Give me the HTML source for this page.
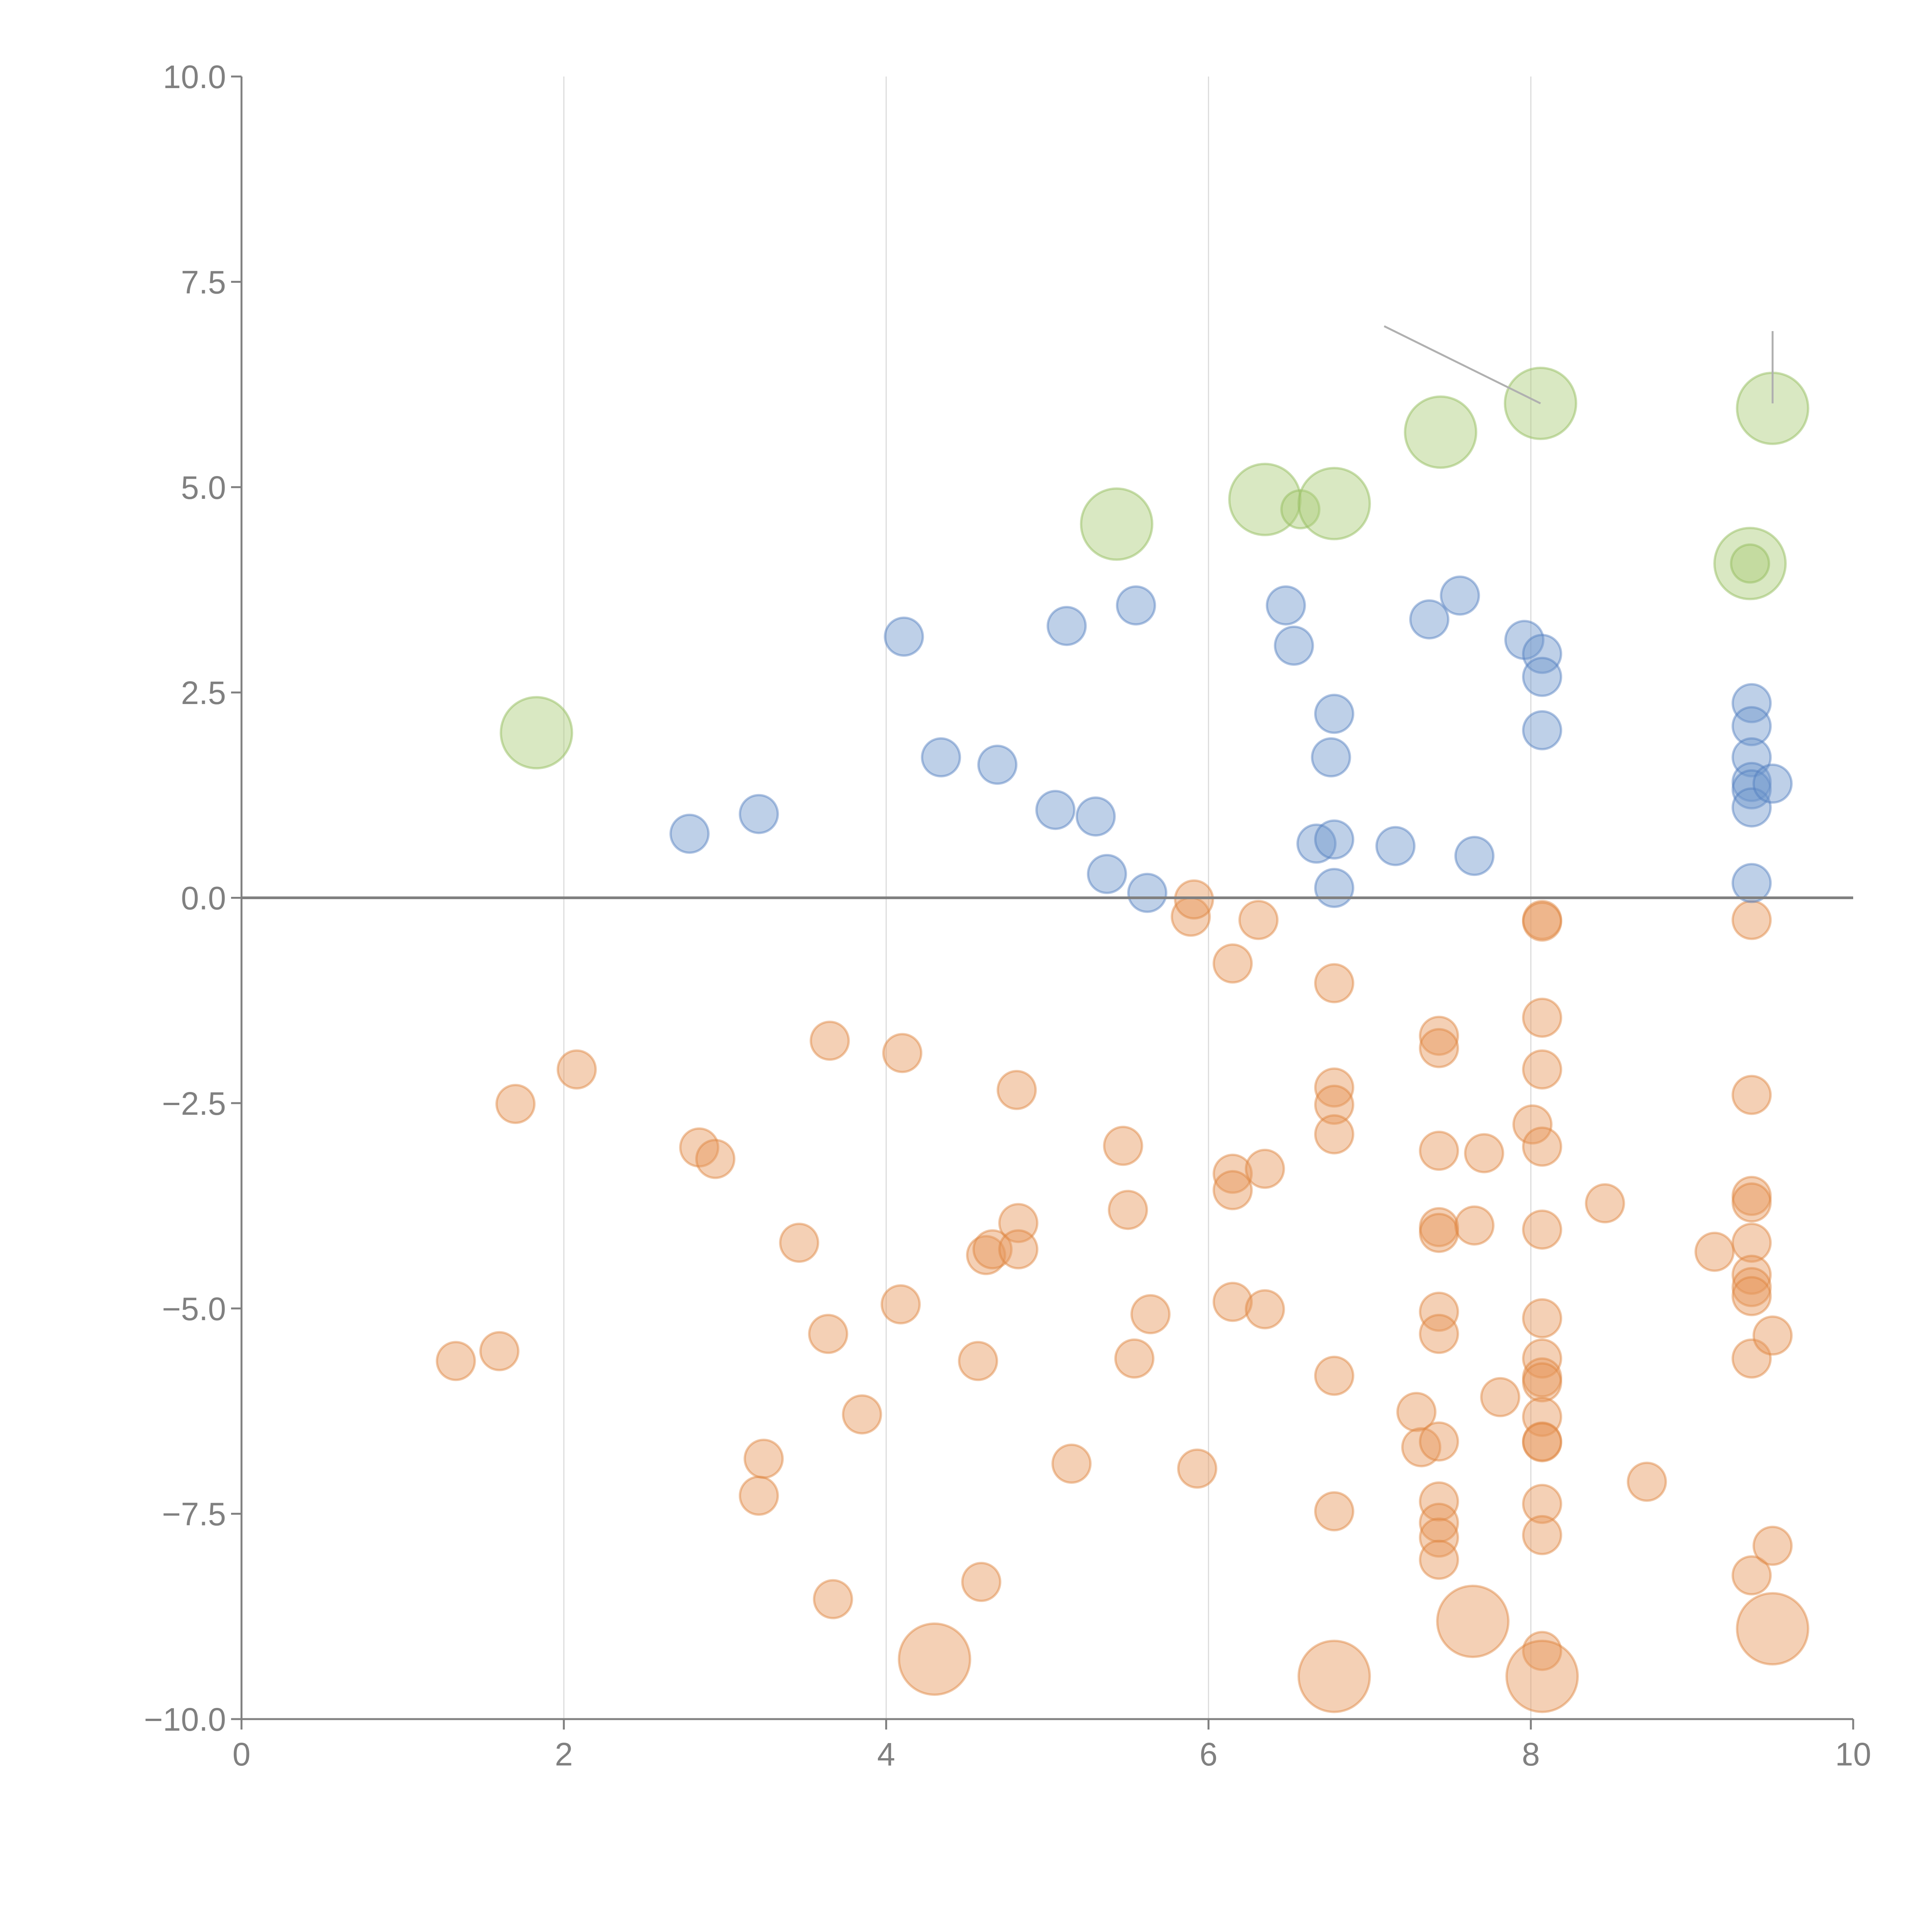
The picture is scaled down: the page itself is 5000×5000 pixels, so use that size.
<!DOCTYPE html>
<html><head><meta charset="utf-8"><style>
html,body{margin:0;padding:0;background:#fff;width:5000px;height:5000px;overflow:hidden;}
svg{display:block;}
svg text{font-family:"Liberation Sans",sans-serif;fill:#808080;}
</style></head><body>
<svg id="chart" width="5000" height="5000" viewBox="0 0 5000 5000" xmlns="http://www.w3.org/2000/svg">
<rect width="5000" height="5000" fill="#fff"/>
<g id="grid"></g>
<g id="marks"></g>
<g id="axes"></g>
</svg>
<script>
const xTicks=[0,2,4,6,8,10];
const yTicks=[10,7.5,5,2.5,0,-2.5,-5,-7.5,-10];
const yTickLabels=["10.0","7.5","5.0","2.5","0.0","\u22122.5","\u22125.0","\u22127.5","\u221210.0"];

const blueX=[2.78,3.21,4.11,4.34,4.69,5.05,5.12,5.30,5.37,5.55,5.62,6.48,6.53,6.67,6.76,6.78,6.78,6.78,7.16,7.37,7.56,7.65,7.96,8.07,8.07,8.07,9.37,9.37,9.37,9.37,9.37,9.37,9.37,9.50];
const blueY=[0.78,1.02,3.18,1.71,1.62,1.07,3.31,0.99,0.29,3.56,0.06,3.56,3.07,0.66,1.71,2.24,0.71,0.12,0.63,3.39,3.68,0.51,3.14,2.97,2.69,2.04,2.37,2.09,1.71,1.41,1.32,1.10,0.18,1.39];

const greenX=[1.83,5.43,6.35,6.57,6.78,7.44,8.06,9.50,9.36,9.36];
const greenY=[2.01,4.55,4.85,4.73,4.80,5.67,6.02,5.96,4.07,4.07];
const greenSize=[2,2,2,1,2,2,2,2,2,1];

const orangeX=[1.33,1.60,1.70,2.08,2.84,2.94,3.21,3.24,3.46,3.64,3.65,3.67,3.85,4.09,4.10,4.57,4.59,4.62,4.66,4.81,4.82,4.82,5.15,5.47,5.50,5.54,5.64,5.89,5.91,5.93,6.15,6.15,6.15,6.15,6.31,6.35,6.35,
6.78,6.78,6.78,6.78,6.78,6.78,7.29,7.32,
7.43,7.43,7.43,7.43,7.43,7.43,7.43,7.43,7.43,7.43,7.43,7.43,
7.65,7.71,7.81,8.01,
8.07,8.07,8.07,8.07,8.07,8.07,8.07,8.07,8.07,8.07,8.07,8.07,8.07,8.07,8.07,8.07,
8.46,8.72,9.14,
9.37,9.37,9.37,9.37,9.37,9.37,9.37,9.37,9.37,9.37,
9.50,9.50,
4.30,6.78,7.64,8.07,9.50];
const orangeY=[-5.64,-5.52,-2.51,-2.09,-3.04,-3.18,-7.28,-6.83,-4.20,-5.31,-1.74,-8.54,-6.29,-4.95,-1.89,-5.64,-8.33,-4.35,-4.28,-2.34,-3.96,-4.28,-6.89,-3.02,-3.80,-5.61,-5.07,-0.23,-0.02,-6.95,-0.80,-4.92,-3.36,-3.56,-0.27,-3.30,-5.01,
-1.04,-2.31,-2.52,-2.88,-5.82,-7.47,-6.26,-6.69,
-1.68,-1.83,-3.08,-4.01,-4.08,-5.04,-5.31,-6.62,-7.35,-7.61,-7.79,-8.06,
-3.99,-3.11,-6.08,-2.76,
-0.27,-0.29,-1.46,-2.09,-3.03,-4.04,-5.12,-5.61,-5.84,-5.90,-6.32,-6.62,-6.63,-7.38,-7.76,-9.17,
-3.72,-7.11,-4.31,
-0.27,-2.40,-3.63,-3.71,-4.20,-4.59,-4.74,-4.85,-5.61,-8.25,
-5.33,-7.89,
-9.27,-9.48,-8.81,-9.48,-8.90];
const orangeSize=orangeX.map((_,i)=>i>=orangeX.length-5?2:1);

const X0=625,X1=4796,Y0=198,Y1=4449;
const sx=v=>X0+(v-0)/(10-0)*(X1-X0);
const sy=v=>Y0+(10-v)/(20)*(Y1-Y0);
const sr=s=>s===2?92:49;
const NS="http://www.w3.org/2000/svg";
function mk(tag,attrs,parent){const e=document.createElementNS(NS,tag);for(const k in attrs)e.setAttribute(k,attrs[k]);parent.appendChild(e);return e;}

const grid=document.getElementById('grid');
[2,4,6,8].forEach(t=>{
  const l=mk('line',{x1:sx(t),x2:sx(t),y1:Y0,y2:Y1,stroke:'#dcdcdc','stroke-width':3},grid);
  
  
});

const marks=document.getElementById('marks');
function series(xs,ys,sizes,fill,stroke,name){
  xs.forEach((x,i)=>{
    const c=mk('circle',{cx:sx(x),cy:sy(ys[i]),r:sr(sizes?sizes[i]:1),fill:fill,stroke:stroke,'stroke-width':6},marks);
    
    
  });
}
series(orangeX,orangeY,orangeSize,'rgba(230,150,90,0.45)','rgba(222,130,60,0.45)','orange-point');
series(blueX,blueY,null,'rgba(110,150,205,0.45)','rgba(80,125,190,0.45)','blue-point');
series(greenX,greenY,greenSize,'rgba(170,205,120,0.45)','rgba(150,190,95,0.5)','green-point');

const a1=mk('line',{x1:sx(7.09),y1:sy(6.96),x2:sx(8.06),y2:sy(6.02),stroke:'#b0b0b0','stroke-width':5},marks);


const a2=mk('line',{x1:sx(9.50),y1:sy(6.90),x2:sx(9.50),y2:sy(6.02),stroke:'#b0b0b0','stroke-width':5},marks);



const axes=document.getElementById('axes');
const zl=mk('line',{x1:X0,x2:X1,y1:sy(0),y2:sy(0),stroke:'#808080','stroke-width':7},axes);


const ya=mk('line',{x1:X0,x2:X0,y1:Y0,y2:Y1,stroke:'#808080','stroke-width':5},axes);


const xa=mk('line',{x1:X0,x2:X1,y1:Y1,y2:Y1,stroke:'#808080','stroke-width':5},axes);



yTicks.forEach((t,i)=>{
  const tk=mk('line',{x1:X0-27,x2:X0,y1:sy(t),y2:sy(t),stroke:'#808080','stroke-width':5},axes);
  
  
  const tx=mk('text',{x:X0-40,y:sy(t)+30,'text-anchor':'end','font-size':84},axes);
  tx.textContent=yTickLabels[i];
  
  
});
xTicks.forEach(t=>{
  const tk=mk('line',{x1:sx(t),x2:sx(t),y1:Y1,y2:Y1+27,stroke:'#808080','stroke-width':5},axes);
  
  
  const tx=mk('text',{x:sx(t),y:Y1+120,'text-anchor':'middle','font-size':84},axes);
  tx.textContent=String(t);
  
  
});
</script>
</body></html>
